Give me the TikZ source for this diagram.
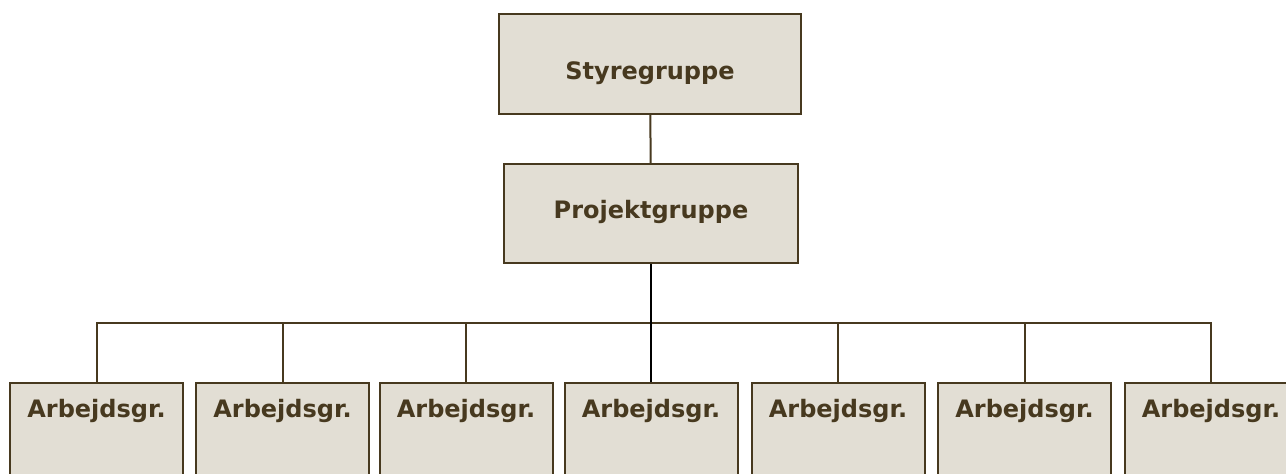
\documentclass[tikz,border=0pt]{standalone}
\usepackage{fontspec}
\setmainfont{DejaVu Sans}
\definecolor{boxfill}{HTML}{E2DED4}
\definecolor{boxline}{HTML}{47391F}

\begin{document}
\begin{tikzpicture}[x=1pt,y=-1pt,
    grp/.style={draw=boxline,fill=boxfill,line width=2pt,inner sep=0pt,
        text=boxline,font=\fontsize{24}{28}\selectfont\bfseries},
    wire/.style={draw=boxline,line width=2pt}]
    \useasboundingbox (0,0) rectangle (1286,474);
    \clip (0,0) rectangle (1286,474);
    \node[grp,minimum width=302pt,text height=65pt,text depth=35pt] (styre) at (650,64) {Styregruppe};
    \node[grp,minimum width=294pt,text height=54pt,text depth=45pt] (projekt) at (651,213.5) {Projektgruppe};
    \foreach \x [count=\i] in {96.5,282.5,466,651,838,1024.5,1211}
        \node[grp,minimum width=173pt,text height=34pt,text depth=86pt,anchor=north] (arb\i) at (\x,382) {Arbejdsgr.};
    \coordinate (bus) at (0,323);
    \draw[wire] (styre) -- (projekt);
    \draw[wire] (arb1.north) |- (arb7.north |- bus) -- (arb7.north);
    \foreach \i in {2,3,5,6}
        \draw[wire] (arb\i.north) -- (arb\i.north |- bus);
    \draw[line width=2pt,black] (projekt.south) -- (arb4.north);
\end{tikzpicture}
\end{document}
